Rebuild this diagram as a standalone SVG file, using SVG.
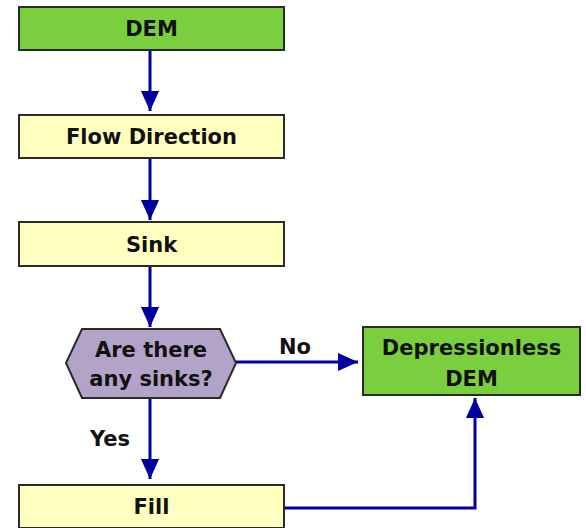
<svg xmlns="http://www.w3.org/2000/svg" width="586" height="528" viewBox="0 0 586 528">
<style>
.box{stroke:#2a2a2a;stroke-width:2}
.green{fill:#7ACF3E}
.yellow{fill:#FFFFC0}
.purple{fill:#B3A3C9}
text{font-family:"DejaVu Sans",sans-serif;font-weight:bold;font-size:21px;fill:#111;text-anchor:middle}
.conn{stroke:#0000A0;stroke-width:3;fill:none}
</style>
<defs>
<marker id="ah" markerWidth="20" markerHeight="22" refX="22" refY="10" orient="auto" markerUnits="userSpaceOnUse" viewBox="0 0 22 20">
<path d="M0,0 L22,10 L0,20 Z" fill="#0000A0"/>
</marker>
</defs>
<rect width="586" height="528" fill="#fff"/>
<g id="connectors">
<line class="conn" x1="150" y1="50" x2="150" y2="111" marker-end="url(#ah)"/>
<line class="conn" x1="150" y1="158" x2="150" y2="220" marker-end="url(#ah)"/>
<line class="conn" x1="150" y1="266" x2="150" y2="327" marker-end="url(#ah)"/>
<line class="conn" x1="236" y1="362" x2="358" y2="362" marker-end="url(#ah)"/>
<line class="conn" x1="150" y1="398" x2="150" y2="479" marker-end="url(#ah)"/>
<polyline class="conn" points="284,508 475,508 475,398" marker-end="url(#ah)"/>
<text x="295" y="354">No</text>
<text x="110" y="446">Yes</text>
</g>
<g id="dem">
<rect class="box green" x="19" y="7" width="265" height="43"/>
<text x="151.5" y="36">DEM</text>
</g>
<g id="flowdir">
<rect class="box yellow" x="19" y="115" width="265" height="43"/>
<text x="151.5" y="144">Flow Direction</text>
</g>
<g id="sink">
<rect class="box yellow" x="19" y="222" width="265" height="44"/>
<text x="151.5" y="252">Sink</text>
</g>
<g id="decision">
<polygon class="box purple" points="82,329 220,329 236,363 220,398 82,398 66,363"/>
<text x="151" y="357">Are there</text>
<text x="151" y="386">any sinks?</text>
</g>
<g id="depless">
<rect class="box green" x="363" y="327" width="217" height="68"/>
<text x="471.5" y="355">Depressionless</text>
<text x="471.5" y="386">DEM</text>
</g>
<g id="fill">
<rect class="box yellow" x="19" y="485" width="265" height="43"/>
<text x="151.5" y="514">Fill</text>
</g>
</svg>
